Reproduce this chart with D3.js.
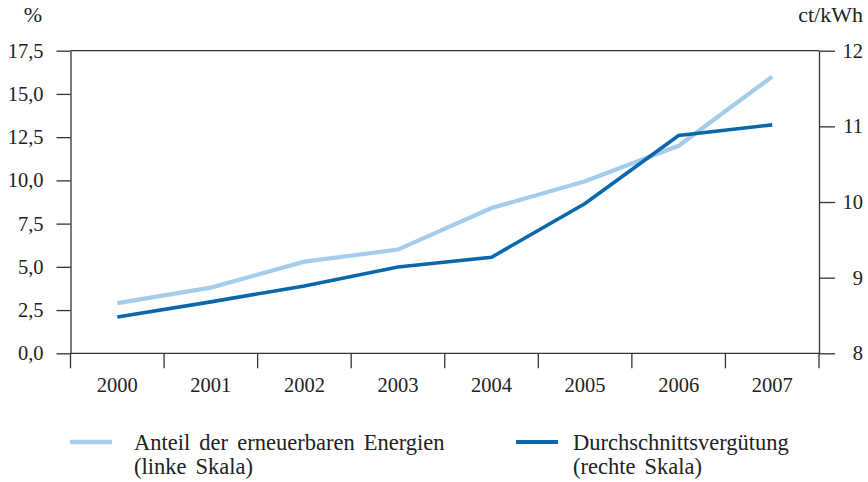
<!DOCTYPE html>
<html><head><meta charset="utf-8">
<script src="https://cdn.jsdelivr.net/npm/d3@7/dist/d3.min.js"></script>
<style>
body{margin:0;background:#fff;}
svg text{font-family:"Liberation Serif","Times New Roman",Times,"DejaVu Serif",serif !important;}
</style></head>
<body>
<svg id="chart" width="868" height="482"></svg>
<script>
const years = ["2000","2001","2002","2003","2004","2005","2006","2007"];
const shareRenewables = [2.9, 3.8, 5.3, 6.0, 8.4, 9.95, 12.0, 16.0];
const avgRemuneration = [8.48, 8.68, 8.89, 9.14, 9.27, 9.98, 10.88, 11.02];
const leftTicks = [0, 2.5, 5, 7.5, 10, 12.5, 15, 17.5];
const rightTicks = [8, 9, 10, 11, 12];
const seriesNames = ["Anteil der erneuerbaren Energien", "Durchschnittsvergütung"];
const seriesNotes = ["(linke Skala)", "(rechte Skala)"];

const svg = d3.select("#chart");
const L = 70.5, R = 819, T = 50.7, B = 353.3;
const axisColor = "#333";
const lightBlue = "#a3cdea", darkBlue = "#0a67ab";
const FONT = "Liberation Serif";

const x = d3.scaleBand().domain(years).range([L, R]).padding(0);
const yL = d3.scaleLinear().domain([0, 17.5]).range([B, T]);
const yR = d3.scaleLinear().domain([8, 12]).range([B, T]);
const fmt = d => d3.format(".1f")(d).replace(".", ",");

const gL = svg.append("g").attr("transform", `translate(${L},0)`)
  .call(d3.axisLeft(yL).tickValues(leftTicks).tickFormat(fmt).tickSize(14).tickSizeOuter(0).tickPadding(13));
const gR = svg.append("g").attr("transform", `translate(${R},0)`)
  .call(d3.axisRight(yR).tickValues(rightTicks).tickFormat(d3.format("d")).tickSize(16).tickSizeOuter(0).tickPadding(9));
gR.selectAll(".tick text").attr("text-anchor", "end").attr("x", 44);
const gB = svg.append("g").attr("transform", `translate(0,${B})`)
  .call(d3.axisBottom(x).tickSize(0).tickPadding(24));
gB.select(".domain").remove();
[gL, gR, gB].forEach(g => g.attr("font-family", FONT).attr("font-size", 20.5));

svg.append("line").attr("x1", L).attr("x2", R).attr("y1", yL(17.5)).attr("y2", yL(17.5));
svg.append("line").attr("x1", L).attr("x2", R).attr("y1", B).attr("y2", B);
const seps = years.map(y => x(y)).concat([x.range()[1]]);
svg.selectAll("line.sep").data(seps).join("line").attr("class", "sep")
  .attr("x1", d => d).attr("x2", d => d).attr("y1", B).attr("y2", B + 15);

svg.selectAll("line").attr("stroke", axisColor).attr("stroke-width", 1.3);
svg.selectAll(".domain").attr("stroke", axisColor).attr("stroke-width", 1.3);
svg.selectAll(".tick line").attr("stroke", axisColor).attr("stroke-width", 1.3);
svg.selectAll(".tick text").attr("fill", "#222");

svg.append("text").attr("x", 33).attr("y", 22).attr("text-anchor", "middle").attr("font-family", FONT).attr("font-size", 22).attr("fill", "#222").text("%");
svg.append("text").attr("x", 863).attr("y", 22).attr("text-anchor", "end").attr("font-family", FONT).attr("font-size", 22).attr("fill", "#222").text("ct/kWh");

const cx = d => x(d) + x.bandwidth() / 2;
const lineL = d3.line().x((d, i) => cx(years[i])).y(d => yL(d));
const lineR = d3.line().x((d, i) => cx(years[i])).y(d => yR(d));
svg.append("path").datum(shareRenewables).attr("d", lineL).attr("fill", "none")
  .attr("stroke", lightBlue).attr("stroke-width", 4.2);
svg.append("path").datum(avgRemuneration).attr("d", lineR).attr("fill", "none")
  .attr("stroke", darkBlue).attr("stroke-width", 3.6);

const legX = [70, 516], legTextX = [134, 573], legColors = [lightBlue, darkBlue], legW = [4.5, 4];
legX.forEach((lx, i) => {
  svg.append("line").attr("x1", lx).attr("x2", lx + 42).attr("y1", 442).attr("y2", 442)
    .attr("stroke", legColors[i]).attr("stroke-width", legW[i]);
  const t = svg.append("text").attr("x", legTextX[i]).attr("y", 450).attr("font-family", FONT)
    .attr("font-size", 22.5).attr("word-spacing", 3.5).attr("fill", "#222");
  t.append("tspan").attr("x", legTextX[i]).text(seriesNames[i]);
  t.append("tspan").attr("x", legTextX[i]).attr("dy", 24).text(seriesNotes[i]);
});
</script>
</body></html>
